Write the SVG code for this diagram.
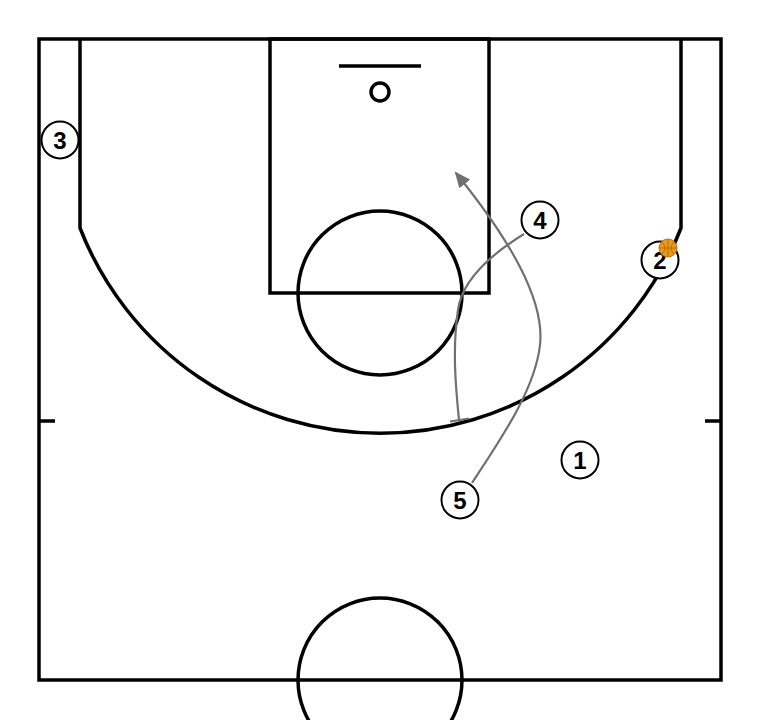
<svg xmlns="http://www.w3.org/2000/svg" width="760" height="720" viewBox="0 0 760 720">
<style>
.court{fill:none;stroke:#000;stroke-width:3.5}
.pl circle{fill:#fff;stroke:#000;stroke-width:2}
.pl text{font-family:"Liberation Sans",Arial,sans-serif;font-weight:bold;font-size:24px;text-anchor:middle;fill:#000}
.mv{fill:none;stroke:#707070;stroke-width:2.2}
</style>
<defs>
<marker id="ah" markerWidth="16" markerHeight="14" refX="14" refY="7" orient="auto" markerUnits="userSpaceOnUse" viewBox="0 0 16 14">
<path d="M0,0 L16,7 L0,14 z" fill="#707070"/>
</marker>
</defs>
<rect width="760" height="720" fill="#fff"/>
<g id="court">
<rect class="court" x="39" y="39" width="682" height="641"/>
<path class="court" d="M80,39 V228 A322.6,322.6 0 0 0 681,228 V39"/>
<rect class="court" x="270" y="39" width="219" height="254"/>
<circle class="court" cx="380" cy="293" r="82"/>
<line class="court" x1="339" y1="66" x2="421" y2="66" stroke-width="2"/>
<circle class="court" cx="380" cy="92" r="9"/>
<circle class="court" cx="380" cy="680" r="82"/>
<line class="court" x1="39" y1="421" x2="55" y2="421"/>
<line class="court" x1="705" y1="421" x2="721" y2="421"/>
</g>
<g id="connectors">
<path class="mv" d="M472,483 C500,440 535,390 540,345 C545,300 510,240 456,173" marker-end="url(#ah)"/>
<path class="mv" d="M524,234 C490,255 462,280 458,310 C452,350 456,390 459,420"/>
<path class="mv" d="M450,421.5 L469,418.5"/>
</g>
<g id="p3" class="pl"><circle cx="60" cy="140" r="18.5"/><text x="60" y="148.5">3</text></g>
<g id="p4" class="pl"><circle cx="540" cy="220" r="18.5"/><text x="540" y="228.5">4</text></g>
<g id="p2" class="pl"><circle cx="660" cy="260" r="18.5"/><text x="660" y="268.5">2</text></g>
<g id="p1" class="pl"><circle cx="580" cy="460" r="18.5"/><text x="580" y="468.5">1</text></g>
<g id="p5" class="pl"><circle cx="460" cy="500" r="18.5"/><text x="460" y="508.5">5</text></g>
<g id="ball">
<circle cx="668" cy="248" r="9" fill="#E89A1C" stroke="#C0700A" stroke-width="1"/>
<path d="M659.5,248 H676.5 M668,239.5 V256.5 M662,242 Q668,248 662,254 M674,242 Q668,248 674,254" fill="none" stroke="#B06008" stroke-width="0.8"/>
</g>
</svg>
